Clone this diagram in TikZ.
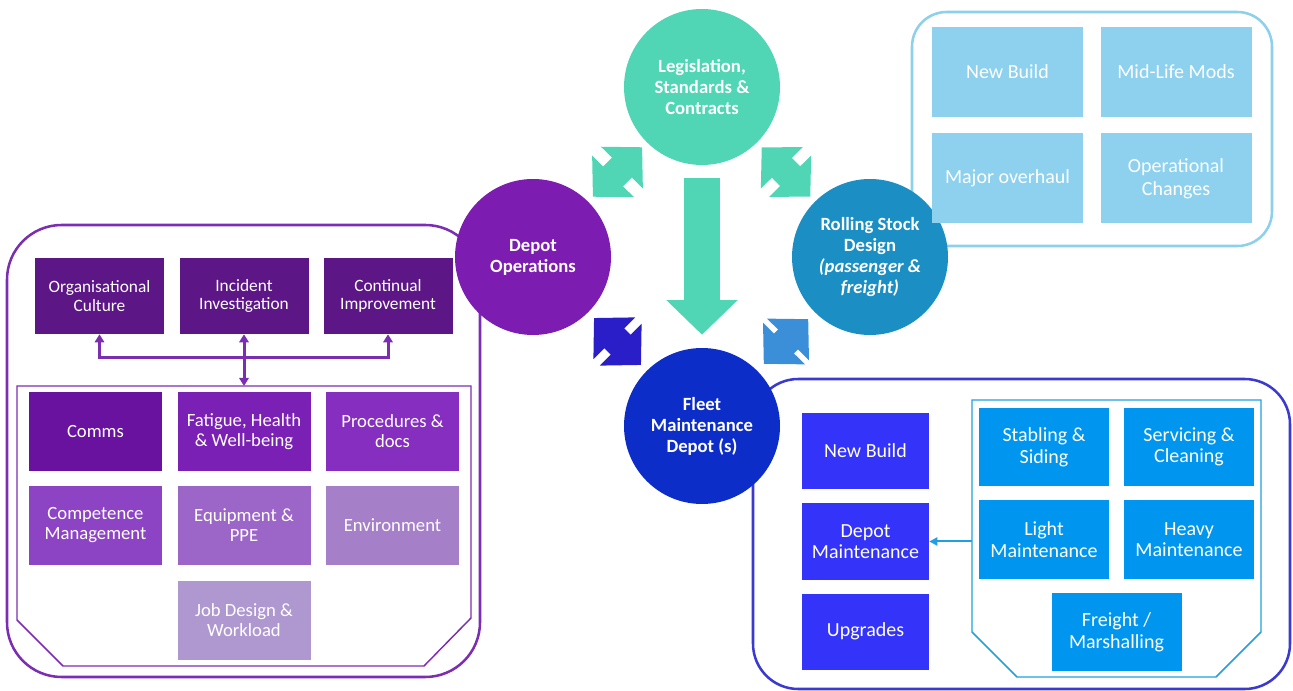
\documentclass[tikz,border=0pt]{standalone}
\usepackage{fontspec}
\setmainfont{Carlito}
\usepackage{tikz}
\definecolor{white}{rgb}{1.0, 1.0, 1.0}
\definecolor{legteal}{RGB}{80,214,181}
\definecolor{opspurple}{RGB}{124,28,176}
\definecolor{rsblue}{RGB}{27,143,196}
\definecolor{fleetblue}{RGB}{12,45,200}
\definecolor{opsarrow}{RGB}{42,30,200}
\definecolor{rsarrow}{RGB}{58,143,216}
\definecolor{lpanel}{RGB}{124,46,178}
\definecolor{topboxc}{RGB}{92,22,134}
\definecolor{comms}{RGB}{106,18,160}
\definecolor{fatigue}{RGB}{123,32,181}
\definecolor{procs}{RGB}{134,46,192}
\definecolor{compet}{RGB}{141,68,196}
\definecolor{equip}{RGB}{156,102,200}
\definecolor{envir}{RGB}{165,127,200}
\definecolor{jobdes}{RGB}{175,152,208}
\definecolor{rpanel}{RGB}{58,58,208}
\definecolor{depboxc}{RGB}{51,51,250}
\definecolor{depline}{RGB}{32,160,224}
\definecolor{actboxc}{RGB}{0,150,240}
\definecolor{tpanel}{RGB}{140,208,236}
\definecolor{rsboxc}{RGB}{141,209,238}
\usetikzlibrary{arrows.meta}
\pgfdeclarelayer{edgelayer}
\pgfdeclarelayer{nodelayer}
\pgfsetlayers{edgelayer,nodelayer,main}
\tikzstyle{circ}=[circle,minimum size=117pt,inner sep=0pt,text=white,align=center,font=\bfseries\fontsize{14pt}{15.75pt}\selectfont]
\tikzstyle{topbox}=[rectangle,fill=topboxc,text=white,align=center,inner sep=0pt,minimum width=96.75pt,minimum height=57pt,font=\fontsize{13pt}{14pt}\selectfont]
\tikzstyle{factor}=[rectangle,text=white,align=center,inner sep=0pt,minimum width=99.75pt,minimum height=59.25pt,font=\fontsize{14pt}{15pt}\selectfont]
\tikzstyle{depbox}=[rectangle,fill=depboxc,text=white,align=center,inner sep=0pt,minimum width=95.25pt,minimum height=57pt,font=\fontsize{15pt}{16.25pt}\selectfont]
\tikzstyle{actbox}=[rectangle,fill=actboxc,text=white,align=center,inner sep=0pt,minimum width=97.5pt,minimum height=58.5pt,font=\fontsize{15pt}{16.25pt}\selectfont]
\tikzstyle{rsbox}=[rectangle,fill=rsboxc,text=white,align=center,inner sep=0pt,minimum width=113.25pt,minimum height=67.5pt,font=\fontsize{15pt}{17.5pt}\selectfont]
\tikzstyle{dblarrow}=[line width=21pt,{Triangle[length=21.5pt,width=43pt]}-{Triangle[length=21.5pt,width=43pt]}]
\tikzstyle{link}=[line width=2.25pt,draw=lpanel]

\begin{document}
\begin{tikzpicture}[x=0.75pt,y=-0.75pt]
        \useasboundingbox (0,0) rectangle (1293,691);
        \begin{pgfonlayer}{nodelayer}
            \node [style = circ, fill=legteal] (leg) at (702, 87) {Legislation,\\Standards \&\\Contracts};
            \node [style = circ, fill=opspurple] (ops) at (533, 257) {Depot\\Operations};
            \node [style = circ, fill=rsblue] (rs) at (870, 257) {Rolling Stock\\Design\\\textit{(passenger \&}\\\textit{freight)}};
            \node [style = circ, fill=fleetblue] (fleet) at (702, 426) {Fleet\\Maintenance\\Depot (s)};

            \node [style = topbox] (cult) at (99.5, 296) {Organisational\\Culture};
            \node [style = topbox] (incid) at (244, 296) {Incident\\Investigation};
            \node [style = topbox] (contin) at (388, 296) {Continual\\Improvement};
            \coordinate (hub) at (244, 358);
            \coordinate (ftop) at (244, 386);

            \node [style = factor, fill=comms] (comm) at (95.5, 431.5) {Comms};
            \node [style = factor, fill=fatigue] (fat) at (244, 431.5) {Fatigue, Health\\\& Well-being};
            \node [style = factor, fill=procs] (proc) at (392.5, 431.5) {Procedures \&\\docs};
            \node [style = factor, fill=compet] (comp) at (95.5, 525.5) {Competence\\Management};
            \node [style = factor, fill=equip] (eqp) at (244, 525.5) {Equipment \&\\PPE};
            \node [style = factor, fill=envir] (env) at (392.5, 525.5) {Environment};
            \node [style = factor, fill=jobdes] (job) at (244, 620) {Job Design \&\\Workload};

            \node [style = depbox] (newb) at (865.5, 451) {New Build};
            \node [style = depbox] (depm) at (865.5, 541.5) {Depot\\Maintenance};
            \node [style = depbox] (upg) at (865.5, 631.5) {Upgrades};
            \coordinate (pool) at (972, 541.5);

            \node [style = actbox] (stab) at (1044, 447) {Stabling \&\\Siding};
            \node [style = actbox] (serv) at (1189, 447) {Servicing \&\\Cleaning};
            \node [style = actbox] (light) at (1044, 539.5) {Light\\Maintenance};
            \node [style = actbox] (heavy) at (1189, 539.5) {Heavy\\Maintenance};
            \node [style = actbox] (frt) at (1116.5, 632) {Freight /\\Marshalling};

            \node [style = rsbox] (rsnew) at (1007.5, 72) {New Build};
            \node [style = rsbox] (rsmid) at (1176, 72) {Mid-Life Mods};
            \node [style = rsbox] (rsmaj) at (1007.5, 178.5) {Major overhaul};
            \node [style = rsbox] (rsop) at (1176, 178.5) {Operational\\Changes};
        \end{pgfonlayer}

        \begin{pgfonlayer}{edgelayer}
            % panels
            \draw [lpanel, line width=1.9pt, rounded corners=41pt] (7, 225) rectangle (480, 677);
            \draw [lpanel, line width=1.1pt] (17, 386) -- (471, 386) -- (471, 618) -- (424, 666) -- (63, 666) -- (17, 620) -- cycle;
            \draw [rpanel, line width=1.9pt, rounded corners=34pt] (753, 379) rectangle (1290, 689);
            \draw [depline, line width=1.1pt] (972, 400) -- (1261, 400) -- (1261, 632) -- (1216, 677) -- (1017, 677) -- (972, 632) -- cycle;
            \draw [tpanel, line width=1.9pt, rounded corners=26pt] (912, 12) rectangle (1272, 246);

            \draw [style = dblarrow, legteal, shorten <=5pt, shorten >=5pt] (leg) to (ops);
            \draw [style = dblarrow, legteal, shorten <=5pt, shorten >=5pt] (leg) to (rs);
            \draw [style = dblarrow, opsarrow, shorten <=6pt, shorten >=6pt] (ops) to (fleet);
            \draw [style = dblarrow, rsarrow, shorten <=7pt, shorten >=7pt] (rs) to (fleet);
            \draw [legteal, line width=27pt, -{Triangle[length=26pt,width=52pt]}, shorten <=9.75pt, shorten >=9.75pt] (leg) to (fleet);

            \draw [style = link, {Triangle[length=6pt,width=7pt]}-{Triangle[length=6pt,width=7pt]}] (incid) to (ftop);
            \draw [style = link, -{Triangle[length=6pt,width=7pt]}] (hub) -| (cult);
            \draw [style = link, -{Triangle[length=6pt,width=7pt]}] (hub) -| (contin);

            \draw [depline, line width=1.5pt, -{Triangle[length=6pt,width=6pt]}] (pool) to (depm);
        \end{pgfonlayer}
    \end{tikzpicture}
\end{document}
